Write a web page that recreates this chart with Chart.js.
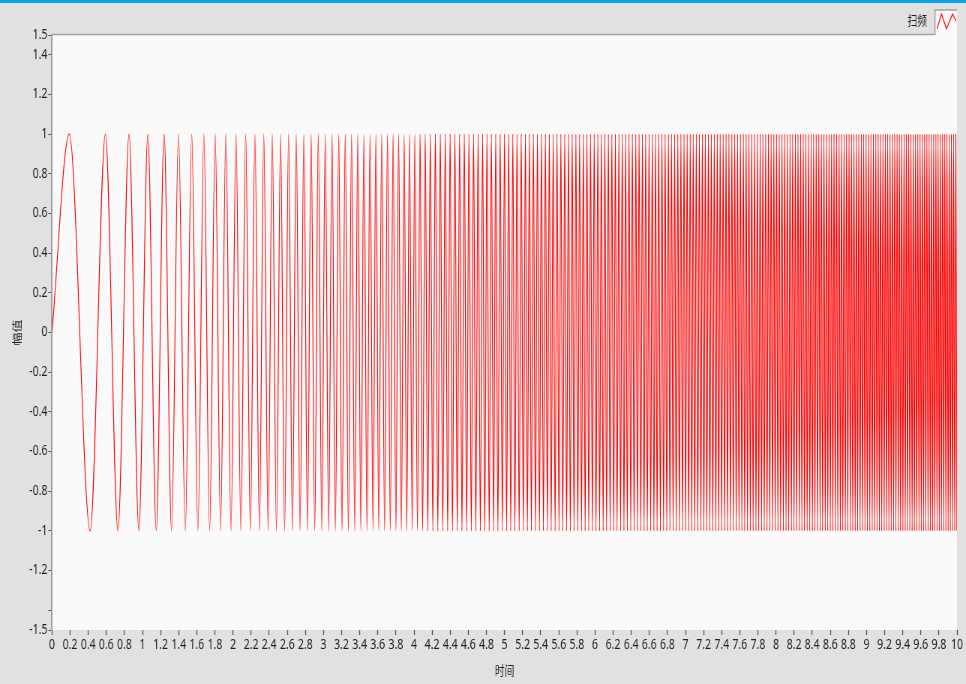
<!DOCTYPE html>
<html>
<head>
<meta charset="utf-8">
<script src="https://cdn.jsdelivr.net/npm/chart.js@4.4.1/dist/chart.umd.min.js"></script>
<style>
  html, body { margin: 0; padding: 0; overflow: hidden; background: #e1e1e1; }
  /* the reference screenshot is squashed sideways, so draw wide and squeeze */
  #wrap { width: 1288px; height: 684px; transform: scaleX(0.75); transform-origin: 0 0; }
</style>
</head>
<body>
<div id="wrap"><canvas id="sweep-chart"></canvas></div>
<script>
const seriesLabel = "扫频";
const xTitle = "时间";
const yTitle = "幅值";

const xTickLabels = [
  "0", "0.2", "0.4", "0.6", "0.8", "1", "1.2", "1.4", "1.6", "1.8",
  "2", "2.2", "2.4", "2.6", "2.8", "3", "3.2", "3.4", "3.6", "3.8",
  "4", "4.2", "4.4", "4.6", "4.8", "5", "5.2", "5.4", "5.6", "5.8",
  "6", "6.2", "6.4", "6.6", "6.8", "7", "7.2", "7.4", "7.6", "7.8",
  "8", "8.2", "8.4", "8.6", "8.8", "9", "9.2", "9.4", "9.6", "9.8", "10",
];
const yTickValues = [1.5, 1.4, 1.2, 1, 0.8, 0.6, 0.4, 0.2, 0, -0.2, -0.4, -0.6, -0.8, -1, -1.2, -1.4, -1.5];
const yTickLabels = ["1.5", "1.4", "1.2", "1", "0.8", "0.6", "0.4", "0.2", "0", "-0.2", "-0.4", "-0.6", "-0.8", "-1", "-1.2", "", "-1.5"];

// sweep starts at zero, then the times of every crest (+1) and every trough (-1)
const startTimes = [0];
const peakTimes = [
  0.191, 0.590, 0.851, 1.059, 1.239, 1.398, 1.544, 1.678, 1.803, 1.921,
  2.033, 2.140, 2.242, 2.340, 2.434, 2.526, 2.614, 2.699, 2.783, 2.863,
  2.942, 3.019, 3.094, 3.168, 3.240, 3.310, 3.379, 3.447, 3.514, 3.579,
  3.643, 3.707, 3.769, 3.830, 3.891, 3.950, 4.009, 4.067, 4.124, 4.180,
  4.236, 4.291, 4.345, 4.399, 4.452, 4.504, 4.556, 4.607, 4.658, 4.708,
  4.758, 4.806, 4.855, 4.903, 4.952, 5.000, 5.046, 5.092, 5.138, 5.185,
  5.231, 5.275, 5.319, 5.364, 5.408, 5.452, 5.495, 5.538, 5.580, 5.623,
  5.666, 5.707, 5.748, 5.789, 5.830, 5.871, 5.911, 5.951, 5.991, 6.031,
  6.070, 6.109, 6.148, 6.186, 6.225, 6.264, 6.301, 6.338, 6.376, 6.413,
  6.451, 6.487, 6.524, 6.560, 6.597, 6.633, 6.669, 6.704, 6.740, 6.775,
  6.811, 6.845, 6.880, 6.915, 6.949, 6.984, 7.018, 7.052, 7.085, 7.119,
  7.153, 7.186, 7.219, 7.252, 7.285, 7.318, 7.351, 7.383, 7.416, 7.448,
  7.480, 7.512, 7.544, 7.575, 7.607, 7.639, 7.670, 7.701, 7.732, 7.763,
  7.794, 7.825, 7.855, 7.886, 7.916, 7.946, 7.976, 8.006, 8.036, 8.066,
  8.096, 8.125, 8.155, 8.184, 8.214, 8.243, 8.272, 8.301, 8.330, 8.359,
  8.388, 8.416, 8.444, 8.473, 8.501, 8.530, 8.558, 8.586, 8.614, 8.641,
  8.669, 8.697, 8.724, 8.752, 8.780, 8.807, 8.834, 8.861, 8.888, 8.915,
  8.943, 8.969, 8.996, 9.023, 9.049, 9.076, 9.103, 9.129, 9.155, 9.182,
  9.208, 9.234, 9.260, 9.286, 9.312, 9.338, 9.363, 9.389, 9.415, 9.440,
  9.466, 9.491, 9.517, 9.542, 9.567, 9.592, 9.617, 9.642, 9.667, 9.692,
  9.717, 9.742, 9.767, 9.791, 9.816, 9.841, 9.865, 9.889, 9.914, 9.938,
  9.962, 9.987,
];
const troughTimes = [
  0.422, 0.729, 0.960, 1.152, 1.321, 1.473, 1.612, 1.742, 1.863, 1.978,
  2.087, 2.192, 2.292, 2.388, 2.480, 2.570, 2.657, 2.741, 2.823, 2.903,
  2.981, 3.057, 3.131, 3.204, 3.275, 3.345, 3.413, 3.481, 3.547, 3.611,
  3.675, 3.738, 3.800, 3.860, 3.920, 3.980, 4.038, 4.095, 4.152, 4.208,
  4.263, 4.318, 4.372, 4.425, 4.478, 4.530, 4.582, 4.633, 4.683, 4.733,
  4.782, 4.831, 4.879, 4.927, 4.976, 5.023, 5.069, 5.115, 5.162, 5.208,
  5.253, 5.297, 5.342, 5.386, 5.430, 5.474, 5.516, 5.559, 5.602, 5.644,
  5.686, 5.727, 5.768, 5.810, 5.851, 5.891, 5.931, 5.971, 6.011, 6.051,
  6.090, 6.128, 6.167, 6.206, 6.244, 6.282, 6.320, 6.357, 6.395, 6.432,
  6.469, 6.506, 6.542, 6.578, 6.615, 6.651, 6.686, 6.722, 6.758, 6.793,
  6.828, 6.863, 6.897, 6.932, 6.967, 7.001, 7.035, 7.069, 7.102, 7.136,
  7.170, 7.203, 7.236, 7.269, 7.302, 7.335, 7.367, 7.399, 7.432, 7.464,
  7.496, 7.528, 7.560, 7.591, 7.623, 7.654, 7.685, 7.716, 7.747, 7.779,
  7.809, 7.840, 7.870, 7.901, 7.931, 7.961, 7.991, 8.021, 8.051, 8.081,
  8.111, 8.140, 8.170, 8.199, 8.228, 8.258, 8.286, 8.315, 8.344, 8.373,
  8.402, 8.430, 8.459, 8.487, 8.515, 8.544, 8.572, 8.600, 8.628, 8.655,
  8.683, 8.711, 8.738, 8.766, 8.793, 8.821, 8.848, 8.875, 8.902, 8.929,
  8.956, 8.983, 9.009, 9.036, 9.063, 9.089, 9.116, 9.142, 9.168, 9.195,
  9.221, 9.247, 9.273, 9.299, 9.325, 9.351, 9.376, 9.402, 9.428, 9.453,
  9.479, 9.504, 9.529, 9.554, 9.580, 9.605, 9.630, 9.655, 9.680, 9.705,
  9.730, 9.754, 9.779, 9.804, 9.828, 9.853, 9.877, 9.902, 9.926, 9.950,
  9.975, 9.999,
];

const squeeze = 0.75;
const fontFamily = "'Noto Sans', 'Noto Sans CJK SC', sans-serif";
const textColor = "#1e1e1e";

const points = [
  ...startTimes.map((t) => ({ x: t, y: 0 })),
  ...peakTimes.map((t) => ({ x: t, y: 1 })),
  ...troughTimes.map((t) => ({ x: t, y: -1 })),
].sort((a, b) => a.x - b.x);

// grey panel, blue strip on top, light plot area and the legend tab
const panelPlugin = {
  id: "panel",
  beforeDraw(chart) {
    const { ctx, chartArea: a, width, height } = chart;
    ctx.save();
    ctx.fillStyle = "#e1e1e1";
    ctx.fillRect(0, 0, width, height);
    ctx.fillStyle = "#0aa2e6";
    ctx.fillRect(0, 0, width, 3);
    ctx.fillStyle = "#fafafa";
    ctx.fillRect(a.left, a.top, a.right - a.left, a.bottom - a.top);
    ctx.restore();
  },
  afterDraw(chart) {
    const { ctx, chartArea: a } = chart;
    const tabLeft = 935 / squeeze;
    const tabTop = 10;
    ctx.save();
    ctx.fillStyle = "#fafafa";
    ctx.fillRect(tabLeft, tabTop, a.right - tabLeft, a.top - tabTop + 1);
    ctx.strokeStyle = "#a0a0a0";
    ctx.lineWidth = 1.5;
    ctx.beginPath();
    ctx.moveTo(a.left, a.top - 0.5);
    ctx.lineTo(tabLeft, a.top - 0.5);
    ctx.lineTo(tabLeft, tabTop);
    ctx.lineTo(a.right, tabTop);
    ctx.stroke();

    ctx.strokeStyle = "#ff0000";
    ctx.lineWidth = 1.2;
    ctx.beginPath();
    const icon = [[937, 29], [941.5, 14], [946.5, 29], [952.5, 14], [956, 21]];
    icon.forEach(([x, y], i) => (i ? ctx.lineTo(x / squeeze, y) : ctx.moveTo(x / squeeze, y)));
    ctx.stroke();

    ctx.fillStyle = textColor;
    ctx.font = "13px " + fontFamily;
    ctx.textAlign = "right";
    ctx.textBaseline = "middle";
    ctx.fillText(chart.data.datasets[0].label, 927 / squeeze, 21);
    ctx.restore();
  },
};

new Chart(document.getElementById("sweep-chart"), {
  type: "line",
  data: {
    datasets: [
      {
        label: seriesLabel,
        data: points,
        borderColor: "#ff0000",
        borderWidth: 1.15,
        pointRadius: 0,
        cubicInterpolationMode: "monotone",
        fill: false,
      },
    ],
  },
  options: {
    responsive: true,
    maintainAspectRatio: false,
    animation: false,
    devicePixelRatio: 1,
    layout: { padding: { top: 35, right: 12, left: 0, bottom: 0 } },
    plugins: {
      legend: { display: false },
      tooltip: { enabled: false },
    },
    scales: {
      x: {
        type: "linear",
        min: 0,
        max: 10,
        afterFit: (scale) => {
          scale.height = 54;
        },
        afterBuildTicks: (scale) => {
          scale.ticks = xTickLabels.map((l) => ({ value: parseFloat(l) }));
        },
        ticks: {
          autoSkip: false,
          maxRotation: 0,
          padding: 2,
          color: textColor,
          font: { family: fontFamily, size: 14 },
          callback: (value, index) => xTickLabels[index],
        },
        grid: {
          display: true,
          drawOnChartArea: false,
          drawTicks: true,
          tickLength: 5,
          tickColor: "#555555",
          tickWidth: 1.3,
        },
        border: { display: false },
        title: {
          display: true,
          text: xTitle,
          color: textColor,
          font: { family: fontFamily, size: 13 },
          padding: { top: 0, bottom: 5 },
        },
      },
      y: {
        type: "linear",
        min: -1.5,
        max: 1.5,
        afterFit: (scale) => {
          scale.width = 52 / squeeze;
        },
        afterBuildTicks: (scale) => {
          scale.ticks = yTickValues.map((v) => ({ value: v }));
        },
        ticks: {
          autoSkip: false,
          padding: 1,
          color: textColor,
          font: { family: fontFamily, size: 14 },
          callback: (value) => yTickLabels[yTickValues.indexOf(value)],
        },
        grid: {
          display: true,
          drawOnChartArea: false,
          drawTicks: true,
          tickLength: 5,
          tickColor: "#555555",
          tickWidth: 1,
        },
        border: { display: true, color: "#a0a0a0", width: 2 },
        title: {
          display: true,
          text: yTitle,
          color: textColor,
          font: { family: fontFamily, size: 13 },
          padding: { top: 15, bottom: 0 },
        },
      },
    },
  },
  plugins: [panelPlugin],
});
</script>
</body>
</html>
